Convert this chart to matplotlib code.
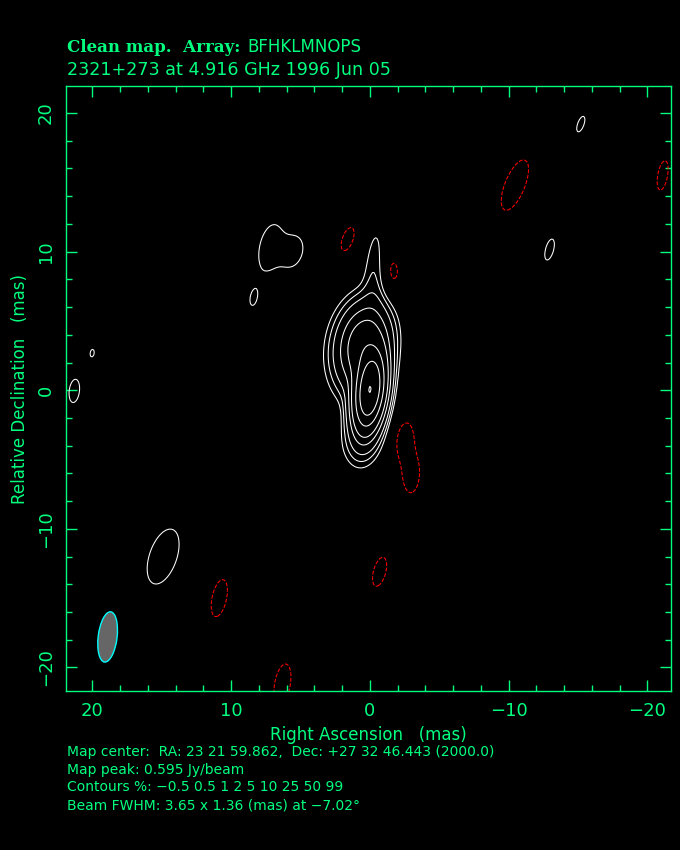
import numpy as np
import matplotlib
matplotlib.use("Agg")
import matplotlib.pyplot as plt
from matplotlib.patches import Ellipse
from matplotlib.ticker import MultipleLocator

# model components (mas, % of peak, FWHM in mas, PA deg N through E)
comp_x = [0.0, 0.45, 1.4, -0.3, 0.6,
          7.2, 5.5, 8.4, 20.0, 21.3, 14.9, -15.2, -12.95,
          1.6, -1.5, -10.45, -21.1, -2.5, -3.0, -0.7, 10.85, 6.3]
comp_y = [0.0, 3.2, 2.5, 7.9, -3.5,
          10.3, 10.0, 6.6, 2.7, -0.05, -12.0, 19.2, 10.15,
          10.9, 8.5, 14.8, 15.5, -3.5, -6.1, -13.1, -15.0, -21.2]
comp_amp = [100.0, 18.0, 0.8, 1.2, 1.5,
            0.82, 0.78, 0.57, 0.54, 0.62, 1.0, 0.55, 0.58,
            -0.6, -0.62, -1.05, -0.65, -0.75, -0.8, -0.65, -0.75, -0.8]
comp_maj = [3.65, 3.8, 5.0, 6.2, 3.0,
            4.0, 2.6, 2.0, 1.5, 3.2, 4.2, 3.65, 3.65,
            3.65, 3.65, 3.8, 3.65, 3.0, 3.2, 3.65, 3.65, 3.65]
comp_min = [1.36, 2.3, 3.0, 1.2, 2.0,
            1.8, 1.6, 0.9, 0.8, 1.4, 2.0, 1.4, 1.36,
            1.6, 2.0, 1.4, 1.2, 1.4, 1.4, 1.5, 1.4, 1.4]
comp_pa = [-7.0, -8.0, 0.0, -3.0, -7.0,
           -12.0, -15.0, -10.0, -7.0, -7.0, -19.0, -20.0, -15.0,
           -20.0, 0.0, -22.0, -10.0, -8.0, -3.0, -15.0, -12.0, -10.0]

levels_pct = [-0.5, 0.5, 1, 2, 5, 10, 25, 50, 99]
beam_maj, beam_min, beam_pa = 3.65, 1.36, -7.02
beam_pos = (18.9, -17.8)

green = '#00ff7f'

x = np.linspace(-22.5, 22.5, 451)
y = np.linspace(-22.5, 22.5, 451)
X, Y = np.meshgrid(x, y)
Z = np.zeros_like(X)
for cx, cy, a, mj, mn, pa in zip(comp_x, comp_y, comp_amp, comp_maj, comp_min, comp_pa):
    t = np.radians(pa)
    dx, dy = X - cx, Y - cy
    u = dx * np.sin(t) + dy * np.cos(t)
    v = dx * np.cos(t) - dy * np.sin(t)
    Z += a * np.exp(-4 * np.log(2) * ((u / mj) ** 2 + (v / mn) ** 2))
Z = Z / Z.max() * 100

fig = plt.figure(figsize=(6.8, 8.5), dpi=100, facecolor='black')
ax = fig.add_axes([66 / 680, 1 - 691 / 850, 605 / 680, 605 / 850])
ax.set_facecolor('black')

neg = [l for l in levels_pct if l < 0]
pos = [l for l in levels_pct if l > 0]
ax.contour(X, Y, Z, levels=pos, colors='white', linewidths=0.75)
ax.contour(X, Y, Z, levels=neg, colors='red', linewidths=0.75, linestyles='dashed')

ax.add_patch(Ellipse(beam_pos, beam_min, beam_maj, angle=-beam_pa,
                     facecolor='#666666', edgecolor='cyan', lw=1))

ax.set_xlim(21.9, -21.7)
ax.set_ylim(-21.7, 21.95)
ax.set_aspect('auto')

for s in ax.spines.values():
    s.set_color(green)
    s.set_linewidth(1)
ax.xaxis.set_major_locator(MultipleLocator(10))
ax.xaxis.set_minor_locator(MultipleLocator(2))
ax.yaxis.set_major_locator(MultipleLocator(10))
ax.yaxis.set_minor_locator(MultipleLocator(2))
ax.tick_params(which='both', direction='in', colors=green, top=True, right=True,
               labelsize=13, width=1)
ax.tick_params(which='major', length=8, pad=8)
ax.tick_params(which='minor', length=4)
for lab in ax.get_yticklabels():
    lab.set_rotation(90)
    lab.set_va('center')

ax.set_xlabel('Right Ascension   (mas)', color=green, fontsize=12, labelpad=4)
ax.set_ylabel('Relative Declination   (mas)', color=green, fontsize=12, labelpad=6)

fig.text(67 / 680, 1 - 47 / 850, 'Clean map.  Array:', color=green, fontsize=12,
         family='DejaVu Serif', weight='bold', va='center')
fig.text(247 / 680, 1 - 47 / 850, 'BFHKLMNOPS', color=green, fontsize=12, va='center')
fig.text(67 / 680, 1 - 70 / 850, '2321+273 at 4.916 GHz 1996 Jun 05', color=green,
         fontsize=12.6, va='center')

info = ['Map center:  RA: 23 21 59.862,  Dec: +27 32 46.443 (2000.0)',
        'Map peak: 0.595 Jy/beam',
        'Contours %: \u22120.5 0.5 1 2 5 10 25 50 99',
        'Beam FWHM: 3.65 x 1.36 (mas) at \u22127.02\u00b0']
for i, line in enumerate(info):
    fig.text(67 / 680, 1 - (752 + 17.7 * i) / 850, line, color=green, fontsize=10,
             va='center')

fig.savefig('out.png', dpi=100, facecolor='black')
